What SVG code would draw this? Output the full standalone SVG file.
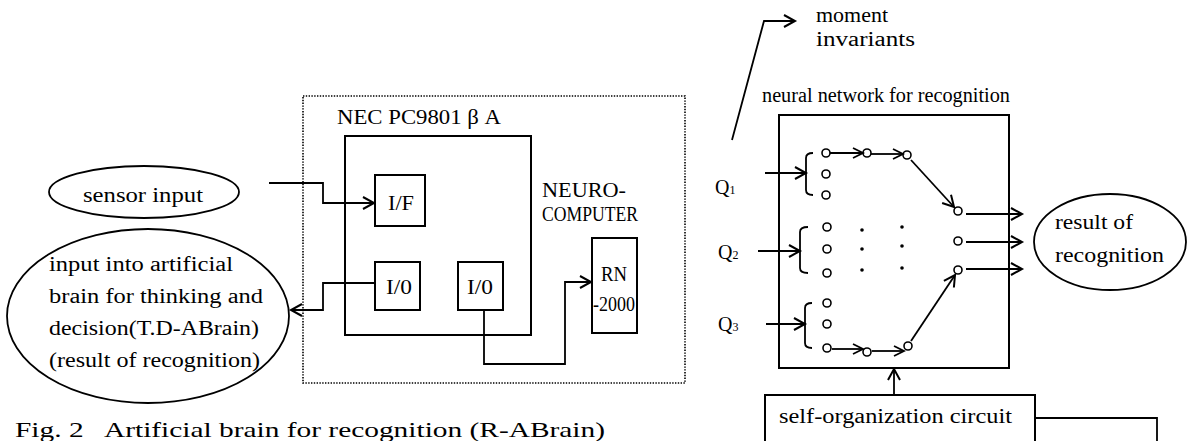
<svg xmlns="http://www.w3.org/2000/svg" width="1187" height="441" viewBox="0 0 1187 441">
<style>
text{font-family:"Liberation Serif","DejaVu Serif",serif;font-size:20px;fill:#000}
.cap{font-size:21px}
.q{font-size:20px}
.sub{font-size:12px}
.ln{fill:none;stroke:#000;stroke-width:1.8}
.bx{fill:#fff;stroke:#000;stroke-width:2}
.el{fill:#fff;stroke:#000;stroke-width:1.8}
.dot{fill:none;stroke:#000;stroke-width:1.6;stroke-dasharray:1.4,1.4}
.nc{fill:#fff;stroke:#000;stroke-width:1.6}
</style>
<defs>
<marker id="a" markerUnits="userSpaceOnUse" markerWidth="14" markerHeight="14" viewBox="-1 -1 14 14" refX="11" refY="6" orient="auto" overflow="visible">
<path d="M0,0 L11,6 L0,12" fill="none" stroke="#000" stroke-width="2"/>
</marker>
<marker id="s" markerUnits="userSpaceOnUse" markerWidth="12" markerHeight="12" viewBox="-1 -1 12 12" refX="10" refY="5" orient="auto" overflow="visible">
<path d="M0,0 L10,5 L0,10" fill="none" stroke="#000" stroke-width="1.8"/>
</marker>
</defs>

<g id="pc-frame">
<rect class="dot" x="303" y="96" width="382" height="287"/>
<text x="337" y="124" textLength="164" lengthAdjust="spacingAndGlyphs">NEC PC9801 β A</text>
<rect class="bx" x="345" y="136" width="186" height="199"/>
</g>
<g id="if"><rect class="bx" x="375" y="175" width="50" height="51"/><text x="388" y="210" textLength="26" lengthAdjust="spacingAndGlyphs">I/F</text></g>
<g id="io1"><rect class="bx" x="375" y="262" width="45" height="48"/><text x="386" y="294" textLength="26" lengthAdjust="spacingAndGlyphs">I/0</text></g>
<g id="io2"><rect class="bx" x="458" y="262" width="45" height="48"/><text x="467" y="294" textLength="26" lengthAdjust="spacingAndGlyphs">I/0</text></g>
<g id="neuro">
<text x="542" y="197" textLength="84" lengthAdjust="spacingAndGlyphs">NEURO-</text>
<text x="542" y="221" textLength="96" lengthAdjust="spacingAndGlyphs">COMPUTER</text>
</g>
<g id="rn"><rect class="bx" x="592" y="238" width="45" height="95"/>
<text x="601" y="281" textLength="26" lengthAdjust="spacingAndGlyphs">RN</text>
<text x="593" y="311" textLength="42" lengthAdjust="spacingAndGlyphs">-2000</text></g>

<g id="sensor"><ellipse class="el" cx="144" cy="192" rx="95" ry="26"/>
<text x="83" y="202" textLength="120" lengthAdjust="spacingAndGlyphs">sensor input</text></g>
<g id="tdabrain"><ellipse class="el" cx="148" cy="316" rx="141" ry="87"/>
<text x="49" y="271" textLength="184" lengthAdjust="spacingAndGlyphs">input into artificial</text>
<text x="49" y="303" textLength="214" lengthAdjust="spacingAndGlyphs">brain for thinking and</text>
<text x="49" y="335" textLength="210" lengthAdjust="spacingAndGlyphs">decision(T.D-ABrain)</text>
<text x="49" y="367" textLength="211" lengthAdjust="spacingAndGlyphs">(result of recognition)</text></g>

<g id="moment"><text x="816" y="22" textLength="72" lengthAdjust="spacingAndGlyphs">moment</text>
<text x="816" y="46" textLength="99" lengthAdjust="spacingAndGlyphs">invariants</text></g>
<g id="nn">
<text x="762" y="102" textLength="248" lengthAdjust="spacingAndGlyphs">neural network for recognition</text>
<rect class="bx" x="779" y="115" width="230" height="253"/>
<text class="q" x="715" y="194">Q<tspan class="sub">1</tspan></text>
<text class="q" x="718" y="259">Q<tspan class="sub">2</tspan></text>
<text class="q" x="718" y="331">Q<tspan class="sub">3</tspan></text>
<path class="ln" d="M813,153 Q806,153 806,158 L806,190 Q806,195 813,195"/>
<path class="ln" d="M808,227 Q800,227 800,232 L800,268 Q800,273 808,273"/>
<path class="ln" d="M812,303 Q805,303 805,308 L805,343 Q805,348 812,348"/>
<g>
<circle class="nc" cx="826" cy="153" r="4"/><circle class="nc" cx="826" cy="174" r="4"/><circle class="nc" cx="826" cy="195" r="4"/>
<circle class="nc" cx="867" cy="153" r="4"/><circle class="nc" cx="907" cy="155" r="4"/>
<circle class="nc" cx="827" cy="227" r="4"/><circle class="nc" cx="827" cy="249" r="4"/><circle class="nc" cx="827" cy="273" r="4"/>
<circle class="nc" cx="827" cy="303" r="4"/><circle class="nc" cx="827" cy="324" r="4"/><circle class="nc" cx="827" cy="348" r="4"/>
<circle class="nc" cx="867" cy="352" r="4"/><circle class="nc" cx="908" cy="346" r="4"/>
<circle class="nc" cx="958" cy="211" r="4"/><circle class="nc" cx="958" cy="241" r="4"/><circle class="nc" cx="958" cy="270" r="4"/>
</g>
<g fill="#000">
<circle cx="862" cy="230" r="1.8"/><circle cx="862" cy="249" r="1.8"/><circle cx="862" cy="270" r="1.8"/>
<circle cx="902" cy="227" r="1.8"/><circle cx="902" cy="246" r="1.8"/><circle cx="902" cy="268" r="1.8"/>
</g>
</g>
<g id="result"><ellipse class="el" cx="1110" cy="242" rx="76" ry="48"/>
<text x="1055" y="229" textLength="78" lengthAdjust="spacingAndGlyphs">result of</text>
<text x="1055" y="262" textLength="109" lengthAdjust="spacingAndGlyphs">recognition</text></g>
<g id="selforg"><rect class="bx" x="765" y="395" width="270" height="50"/>
<text x="779" y="423" textLength="233" lengthAdjust="spacingAndGlyphs">self-organization circuit</text></g>

<g id="caption"><text class="cap" x="15" y="437" textLength="590" lengthAdjust="spacingAndGlyphs" xml:space="preserve">Fig. 2   Artificial brain for recognition (R-ABrain)</text></g>

<g id="connectors">
<path class="ln" d="M269,183 H323 V203 H374" marker-end="url(#a)"/>
<path class="ln" d="M375,283 H323 V310 H291" marker-end="url(#a)"/>
<path class="ln" d="M484,311 V364 H565 V282 H591" marker-end="url(#a)"/>
<path class="ln" d="M732,140 L764,21 H795" marker-end="url(#a)"/>
<path class="ln" d="M765,173 H806" marker-end="url(#a)"/>
<path class="ln" d="M758,251 H800" marker-end="url(#a)"/>
<path class="ln" d="M766,324 H805" marker-end="url(#a)"/>
<path class="ln" d="M830,153 H863" marker-end="url(#s)"/>
<path class="ln" d="M871,154 H903" marker-end="url(#s)"/>
<path class="ln" d="M911,160 L954,207" marker-end="url(#a)"/>
<path class="ln" d="M832,349 H863" marker-end="url(#s)"/>
<path class="ln" d="M872,351 H904" marker-end="url(#s)"/>
<path class="ln" d="M911,341 L955,275" marker-end="url(#a)"/>
<path class="ln" d="M966,214 H1022" marker-end="url(#a)"/>
<path class="ln" d="M966,242 H1022" marker-end="url(#a)"/>
<path class="ln" d="M966,269 H1022" marker-end="url(#a)"/>
<path class="ln" d="M894,395 V369" marker-end="url(#a)"/>
<path class="ln" d="M1035,418 H1157 V441"/>
</g>
</svg>
